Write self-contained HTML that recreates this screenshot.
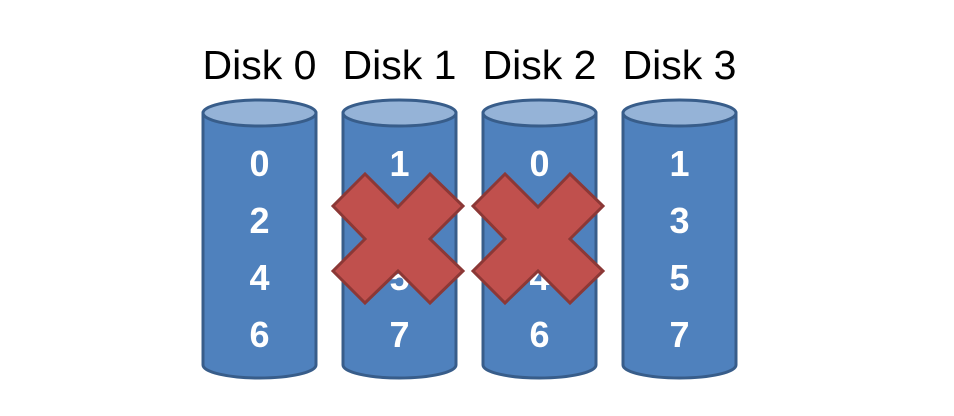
<!DOCTYPE html>
<html><head><meta charset="utf-8"><style>
html,body{margin:0;padding:0;background:#fff;width:954px;height:416px;overflow:hidden}
</style></head><body>
<svg width="954" height="416" viewBox="0 0 954 416" xmlns="http://www.w3.org/2000/svg">
<defs>
<g id="cyl">
<path d="M0,113 L0,365 A56.5,13 0 0 0 113,365 L113,113 Z" fill="#4f81bd" stroke="#385d8a" stroke-width="3"/>
<ellipse cx="56.5" cy="113" rx="56.5" ry="13" fill="#95b3d7" stroke="#385d8a" stroke-width="3"/>
</g>
<polygon id="x" points="333,206 365,174 398,207 430,174 463,206 430,239 463,271 430,303 398,271 365,303 333,271 365,239" fill="#c0504d" stroke="#8c3836" stroke-width="3"/>
</defs>
<g font-family="Liberation Sans, sans-serif" font-size="41" fill="#000" text-anchor="middle">
<text x="259.5" y="79">Disk 0</text>
<text x="399.5" y="79">Disk 1</text>
<text x="539.5" y="79">Disk 2</text>
<text x="679.5" y="79">Disk 3</text>
</g>
<use href="#cyl" x="203"/>
<use href="#cyl" x="343"/>
<use href="#cyl" x="483"/>
<use href="#cyl" x="623"/>
<g font-family="Liberation Sans, sans-serif" font-size="36" font-weight="bold" fill="#fff" text-anchor="middle">
<text x="259.5" y="176">0</text><text x="259.5" y="233">2</text><text x="259.5" y="290">4</text><text x="259.5" y="347">6</text>
<text x="399.5" y="176">1</text><text x="399.5" y="233">3</text><text x="399.5" y="290">5</text><text x="399.5" y="347">7</text>
<text x="539.5" y="176">0</text><text x="539.5" y="233">2</text><text x="539.5" y="290">4</text><text x="539.5" y="347">6</text>
<text x="679.5" y="176">1</text><text x="679.5" y="233">3</text><text x="679.5" y="290">5</text><text x="679.5" y="347">7</text>
</g>
<use href="#x"/>
<use href="#x" x="140"/>
</svg>
</body></html>
